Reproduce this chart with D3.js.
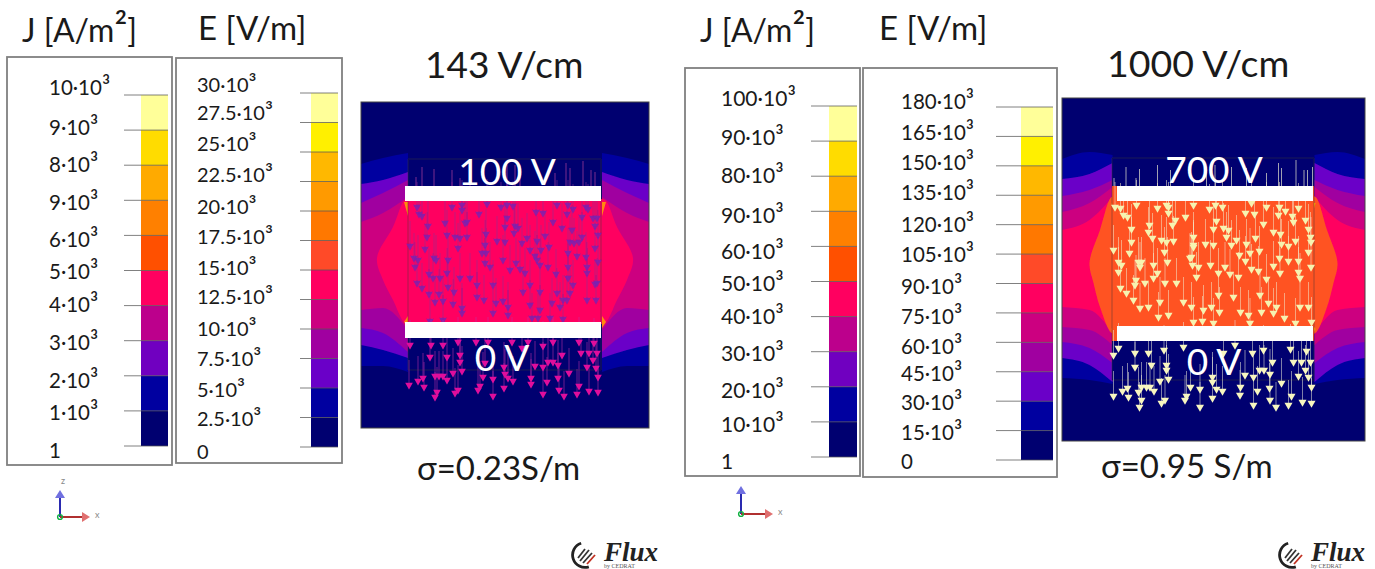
<!DOCTYPE html>
<html><head><meta charset="utf-8">
<script src="https://cdn.jsdelivr.net/npm/d3@7"></script>
<style>html,body{margin:0;padding:0;background:#fff;overflow:hidden}svg{display:block}text{font-family:Lato,"Open Sans",sans-serif;fill:#1a1a1a}</style>
</head><body><svg id="c" width="1375" height="569"></svg>
<script>
// ---------- legend data (bottom to top) ----------
const jLabelsLow  = ["1","1·10³","2·10³","3·10³","4·10³","5·10³","6·10³","9·10³","8·10³","9·10³","10·10³"];
const eLabelsLow  = ["0","2.5·10³","5·10³","7.5·10³","10·10³","12.5·10³","15·10³","17.5·10³","20·10³","22.5·10³","25·10³","27.5·10³","30·10³"];
const jLabelsHigh = ["1","10·10³","20·10³","30·10³","40·10³","50·10³","60·10³","90·10³","80·10³","90·10³","100·10³"];
const eLabelsHigh = ["0","15·10³","30·10³","45·10³","60·10³","75·10³","90·10³","105·10³","120·10³","135·10³","150·10³","165·10³","180·10³"];
const jColors = ["#000070","#0000a0","#7000c0","#bc008c","#ff0060","#ff5000","#ff8000","#ffaa00","#ffdc00","#ffff99"];
const eColors = ["#000070","#0000a0","#6a00c8","#a000a0","#cc0080","#ff0060","#ff4a28","#ff7800","#ff9a00","#ffb800","#fff000","#ffff99"];

// ---------- field bands: distance along x, upper and lower contour height ----------
const bandXLow  = [-144,-122,-97];
const bandsLow = [
  {color:"#0000a0", top:[264,270,275], bottom:[62,62,56]},
  {color:"#6a00c8", top:[244,248,256], bottom:[83,78,70]},
  {color:"#a000a0", top:[225,235,248], bottom:[100,95,76]},
  {color:"#cc0080", top:[206,215,231], bottom:[118,120,98]}
];
const coreLow = [[-100,228],[-112,201],[-128,170],[-122,148],[-112,128],[-100,105],[-94,105],[-94,228]];
const bandXHigh = [-151.5,-124,-101];
const bandsHigh = [
  {color:"#0000a0", top:[282,289,286], bottom:[63,61,57]},
  {color:"#6a00c8", top:[262,267,278], bottom:[83,76,59]},
  {color:"#a000a0", top:[245,251,261], bottom:[99,93,78]},
  {color:"#cc0080", top:[229,238,254], bottom:[114,111,96]},
  {color:"#ff0060", top:[211,221,244], bottom:[134,131,108]}
];
const coreHigh = [[-102,244],[-113.5,211],[-124,178],[-120,158],[-113.5,134],[-102,108],[-97,108],[-97,244]];

// ---------- field arrows: x, height of the arrow head ----------
const innerLow = [[-88,221],[-86,214],[-83,212],[-77,202],[-78,191],[-80,179],[-95,182],[-91,170],[-87,168],[-90,161],[-71,170],[-69,168],[-76,154],[-72,150],[-65,150],[-58,155],[-57,168],[-47,180],[-58,193],[-60,205],[-53,221],[-43,223],[-43,218],[-26,214],[-38,206],[-40,205],[-50,191],[-45,190],[-38,191],[-18,224],[-4,221],[2,223],[8,222],[2,210],[0,201],[10,202],[13,200],[9,195],[-19,194],[-8,187],[0,186],[-20,183],[-23,175],[-19,175],[-2,168],[-20,165],[-15,161],[-35,150],[-45,150],[5,158],[11,165],[15,159],[20,155],[17,185],[22,190],[32,187],[25,178],[30,172],[36,178],[44,181],[32,168],[35,163],[43,161],[51,154],[40,192],[57,200],[48,206],[38,215],[31,216],[52,223],[62,214],[63,223],[68,219],[81,221],[83,219],[77,211],[88,210],[92,210],[90,202],[67,198],[77,191],[93,193],[65,186],[69,185],[74,186],[90,180],[63,175],[72,172],[81,171],[93,166],[63,161],[82,161],[82,155],[90,144],[63,150],
  [-88,145],[-83,140],[-76,134],[-66,134],[-57,141],[-51,136],[-70,126],[-62,127],[-52,124],[-43,120],[-43,115],[-28,143],[-28,131],[-21,128],[-12,143],[-9,125],[-2,127],[-12,115],[3,121],[3,113],[18,136],[35,136],[25,143],[25,123],[35,118],[33,110],[27,110],[47,125],[55,121],[52,135],[65,135],[68,143],[62,128],[58,128],[82,128],[91,128],[92,145],[58,109],[45,110],[-75,107],[-62,108]];
const outerLow = [[-95,83],[-74,83],[-62,83],[-47,86],[-29,86],[-17,86],[7,86],[23,86],[48,86],[74,86],[89,85],[38,82],[17,80],[-75,71],[-58,71],[-45,73],[-45,66],[-43,57],[-52,55],[-20,65],[-1,61],[0,54],[30,62],[38,61],[43,66],[48,66],[53,63],[57,73],[76,75],[84,75],[92,75],[88,68],[82,61],[91,60],[64,55],[-96,43],[-87,47],[-82,50],[-81,41],[-70,52],[-66,52],[-62,52],[-58,48],[-68,36],[-70,31],[-50,35],[-47,38],[-27,38],[-25,42],[-22,51],[-12,49],[-12,32],[-1,40],[3,50],[8,47],[26,50],[26,44],[42,46],[38,34],[53,50],[54,38],[59,32],[72,34],[74,42],[84,37],[93,51],[93,36]];
const stemsLow = [[-89,251],[-83,261],[-71,259],[-53,258],[-45,250],[-35,255],[2,263],[10,263],[15,263],[50,255],[61,265],[65,260],[78,267],[86,258],[90,256]];

const innerHigh = [[-98.5,234],[-93,233],[-90,226],[-86,224],[-77,236],[-56,233],[-47,236],[-45,234],[-45,228],[-38,221],[-41,216],[-64,216],[-65,209],[-82,212],[-82,199],[-61,203],[-52,201],[-47,199],[-40,200],[-20,236],[-28,224],[-20,204],[-20,196],[-8,197],[0,196],[2,236],[9,234],[-4,232],[3,220],[0,212],[10,213],[15,211],[13,204],[23,201],[18,196],[33,197],[42,203],[32,228],[41,227],[38,238],[53,234],[50,217],[66,234],[72,230],[65,226],[85,233],[79,225],[80,219],[92,221],[60,209],[67,207],[95,212],[97,204],[97.5,199],[68,197],[75,195],[82,200],[46,190],[36.5,188],[26,186],[32,180],[66,183],[75,180],[95,189],[85,180],[60,175],[97.5,174],[85,169],[86.5,163],[66.5,168],[53,162],[45,170],[38,172],[25,164],[16.5,167],[11.5,174],[5,168],[-3,176],[-15,174],[-21,176],[-23.5,183],[-17,164],[-46,179],[-49,189],[-84,188],[-100,191],[-95,179],[-92,176],[-95,169],[-75,179],[-72,179],[-73.5,174],[-60,176],[-56,168],[-60,163],[-77.5,161],[-68.5,158],[-48.5,158],[-37,158],[-93,153],[-78.5,156],[-22,184],[-20,194],
  [-87,148],[-80,141],[-73.5,133],[-65,134],[-55,124],[-53.5,139],[-45,126],[-30,139],[-22,134],[-10,131],[-2,134],[6,129],[5,146],[20,144],[27,129],[35,126],[48,129],[55,138],[63,134],[60,128],[71,123],[86.5,134],[95,134],[46.5,146],[-20,119],[-11,120],[0,118],[36.5,118],[82,118],[98,119]];
const outerHigh = [[-95,93],[-100,86],[-78.5,88],[-65,88],[-49.5,91],[-30,94],[10,88],[21.5,96],[39,88],[50,91],[77,92],[93,90],[80,79],[88,79],[97,79],[59,79],[92,71],[-78.5,74],[-62,76],[-47,76],[-47,71],[-45,62],[-53.5,60],[-1,64],[-1,59],[31.5,66],[40,64],[46,71],[50.5,71],[56.5,67],[68,58],[85,65],[95,64],[-100,45],[-91,50],[-86,53],[-85,44],[-75,49],[-72,54],[-67,54],[-63.5,54],[-59.5,50],[-72,41],[-74,34],[-52,38],[-48.5,41],[-28.5,41],[-27,45],[-23,54],[-13.5,52],[-13.5,34],[-1,43],[3,52],[9,50],[26.5,46],[27,54],[44,50],[40,36],[56,53],[56.5,41],[62.5,34],[75,36],[78,45],[89,39],[98,54],[98,38]];
const stemsHigh = [[-99.5,263],[-87.5,274],[-77.5,263],[-74,272],[-56,276],[-43,271],[-7,271],[1.5,276],[18,274],[33,273],[53,268],[65,278],[68,273],[82.5,281],[90.5,271],[94,271],[99,274]];

// ---------- layout (not data) ----------
const labelYJ1 = [451,413,381,343,305,272,240,203,165,128,88];
const labelYE1 = [452,419,390,359,329,297,268,237,207,175,144,113,85];
const labelYJ2 = [461,424,390,353,316,283,251,215,175,137,98];
const labelYE2 = [462,433,403,374,347,317,287,255,225,193,163,133,102];
const legends = [
 {labels:jLabelsLow, colors:jColors, box:[7,57,172,465], bar:[141,168], y:[446,95], tick:44, lx:49, ly:labelYJ1, fs:20.5},
 {labels:eLabelsLow, colors:eColors, box:[176,58,342,463], bar:[311,338], y:[447,93], tick:38, lx:197, ly:labelYE1, fs:20},
 {labels:jLabelsHigh, colors:jColors, box:[685,68,860,476], bar:[829,857], y:[457,106], tick:46, lx:721, ly:labelYJ2, fs:21},
 {labels:eLabelsHigh, colors:eColors, box:[863,68,1057,477], bar:[1021,1053], y:[460,107], tick:57, lx:901, ly:labelYE2, fs:20.5}
];
const svg = d3.select("#c");

// text helper: the ³ and ² glyphs are set a little larger, as the reference's exponents are
function rich(sel, s){
  s.split(/([²³])/).filter(p=>p).forEach(p=>{
    if(p==="³"||p==="²") sel.append("tspan").attr("font-size","1.2em").text(p);
    else sel.append("tspan").text(p);
  });
}

// ---------- legends ----------
legends.forEach(L=>{
  const g = svg.append("g");
  const y = d3.scaleLinear().domain([0,L.labels.length-1]).range(L.y);
  g.append("rect").attr("x",L.box[0]).attr("y",L.box[1]).attr("width",L.box[2]-L.box[0]).attr("height",L.box[3]-L.box[1])
   .attr("fill","#fff").attr("stroke","#808080").attr("stroke-width",1.8);
  g.selectAll(".seg").data(L.colors).join("rect").attr("x",L.bar[0]).attr("width",L.bar[1]-L.bar[0])
   .attr("y",(d,i)=>y(i+1)).attr("height",(d,i)=>y(i)-y(i+1)).attr("fill",d=>d);
  g.selectAll(".tk").data(L.labels).join("line").attr("x1",L.bar[1]-L.tick).attr("x2",L.bar[1])
   .attr("y1",(d,i)=>y(i)).attr("y2",(d,i)=>y(i)).attr("stroke","#555").attr("stroke-opacity",.75).attr("stroke-width",1);
  g.selectAll(".lb").data(L.labels).join("text").attr("x",L.lx).attr("y",(d,i)=>L.ly[i]).attr("dy",".36em")
   .attr("font-size",L.fs).each(function(d){rich(d3.select(this),d);});
});

// ---------- field plots ----------
const defs = svg.append("defs");
defs.append("filter").attr("id","soft").attr("x","-5%").attr("y","-5%").attr("width","110%").attr("height","110%")
  .append("feGaussianBlur").attr("stdDeviation",.55);

function field(c){
  const x = d3.scaleLinear().domain([-c.halfW,c.halfW]).range(c.px);
  const z = d3.scaleLinear().domain([0,c.h]).range(c.py);
  const g = svg.append("g");
  const s = g.append("g").attr("filter","url(#soft)");
  const rectZ=(xa,xb,za,zb,fill)=>s.append("rect").attr("x",x(xa)).attr("width",x(xb)-x(xa)).attr("y",z(zb)).attr("height",z(za)-z(zb)).attr("fill",fill);
  rectZ(-c.halfW,c.halfW,0,c.h,"#000070");
  [1,-1].forEach(m=>{
    const area = d3.area().x(d=>x(m*d.x)).y0(d=>z(d.b)).y1(d=>z(d.t)).curve(d3.curveMonotoneX);
    c.bands.forEach(b=>{
      const pts = c.bandX.map((v,i)=>({x:v,t:b.top[i],b:b.bottom[i]}));
      if(m<0) pts.reverse();
      s.append("path").attr("d",area(pts)).attr("fill",b.color);
    });
    const ln = d3.line().x(d=>x(m*d[0])).y(d=>z(d[1])).curve(d3.curveCatmullRomClosed.alpha(.5));
    s.append("path").attr("d",ln(c.core)).attr("fill",c.coreColor);
    const sl = d3.line().x(d=>x(m*d[0])).y(d=>z(d[1]));
    c.slivers.forEach(p=>s.append("path").attr("d",sl(p)+"Z").attr("fill",c.sliverColor));
  });
  // central column
  rectZ(c.rect[0],c.rect[1],c.lower[1],c.rect[3],"#000070");
  rectZ(c.rect[0],c.rect[1],c.rect[2],c.lower[0],"#000070");
  rectZ(c.rect[0],c.rect[1],c.lower[0],c.upper[1],c.coreColor);
  s.append("rect").attr("x",x(c.rect[0])).attr("width",x(c.rect[1])-x(c.rect[0])).attr("y",z(c.rect[3])).attr("height",z(c.rect[2])-z(c.rect[3]))
   .attr("fill","none").attr("stroke","#333").attr("stroke-opacity",.6).attr("stroke-width",.7);
  s.selectAll(".st").data(c.stems).join("line").attr("x1",d=>x(d[0])).attr("x2",d=>x(d[0])).attr("y1",d=>z(d[1])).attr("y2",z(c.upper[1]))
   .attr("stroke",c.stemUp).attr("stroke-opacity",.75).attr("stroke-width",1);
  const tri = d3.symbol().type(d3.symbolTriangle).size(c.head);
  [[c.inner,c.innerColor,c.innerStem,c.innerOp],[c.outer,c.outerColor,c.outerStem,1]].forEach(([arr,col,stem,op])=>{
    s.append("g").selectAll("line").data(arr).join("line").attr("x1",d=>x(d[0])).attr("x2",d=>x(d[0]))
      .attr("y1",d=>z(d[1])-c.stemLen).attr("y2",d=>z(d[1])).attr("stroke",stem).attr("stroke-opacity",.55).attr("stroke-width",1);
    s.append("g").selectAll("path").data(arr).join("path").attr("d",tri).attr("fill-opacity",op)
      .attr("transform",d=>`translate(${x(d[0])},${z(d[1])}) rotate(180)`).attr("fill",col);
  });
  rectZ(c.elec[0],c.elec[1],c.upper[0],c.upper[1],"#fff");
  rectZ(c.elec[0],c.elec[1],c.lower[0],c.lower[1],"#fff");
  g.append("rect").attr("x",c.px[0]).attr("y",c.py[1]).attr("width",c.px[1]-c.px[0]).attr("height",c.py[0]-c.py[1])
   .attr("fill","none").attr("stroke","#444").attr("stroke-width",1);
  c.labels.forEach(l=>g.append("text").attr("x",l[1]).attr("y",l[2]).attr("dy",".36em").attr("text-anchor","middle")
    .attr("font-size",l[3]).style("fill","#fff").text(l[0]));
}
field({halfW:144,h:326,px:[361,649],py:[428,102],
  bandX:bandXLow,bands:bandsLow,core:coreLow,coreColor:"#ff0060",
  slivers:[[[-101,226],[-97,226],[-97,212]],[[-101,106],[-97,112],[-97,100]]],sliverColor:"#ff8a10",
  rect:[-97,96,58,269],elec:[-100,96],upper:[227,242],lower:[90,106],
  stems:stemsLow,stemUp:"#a0309a",inner:innerLow,outer:outerLow,
  innerColor:"#7424b4",innerStem:"#8a2098",innerOp:.8,outerColor:"#e0109c",outerStem:"#c02aa8",head:25,stemLen:25,
  labels:[["100 V",507,172,37],["0 V",502,358,37]]});
field({halfW:151.5,h:343,px:[1062,1365],py:[441,98],
  bandX:bandXHigh,bands:bandsHigh,core:coreHigh,coreColor:"#ff5224",
  slivers:[[[-102,238],[-98,238],[-98,224]],[[-102,112],[-98,118],[-98,104]]],sliverColor:"#ffb000",
  rect:[-101.5,100.5,61,283],elec:[-96.5,99.5],upper:[240,255],lower:[100,115],
  stems:stemsHigh,stemUp:"#d8d8c8",inner:innerHigh,outer:outerHigh,
  innerColor:"#f6f3b0",innerStem:"#f2e8c8",innerOp:1,outerColor:"#f8f6c0",outerStem:"#e8e8d8",head:28,stemLen:25,
  labels:[["700 V",1214,170,37],["0 V",1214,362,37]]});

// ---------- headings ----------
[["J [A/m²]",22,30,32],["E [V/m]",198,28,33],["J [A/m²]",700,30,32],["E [V/m]",879,28,33],
 ["143 V/cm",425,65,37],["1000 V/cm",1107,63,37.5],["σ=0.23S/m",417,468,33],["σ=0.95 S/m",1101,466,33]]
 .forEach(t=>{const e=svg.append("text").attr("x",t[1]).attr("y",t[2]).attr("dy",".36em").attr("font-size",t[3]); rich(e,t[0]);});

// ---------- axis triads ----------
function triad(ox,oy,up,right,showZ){
  const g = svg.append("g");
  g.append("line").attr("x1",ox).attr("x2",ox).attr("y1",oy).attr("y2",oy-up+5).attr("stroke","#2a2ab0").attr("stroke-width",2);
  g.append("path").attr("d",`M${ox},${oy-up}l-5,8h10z`).attr("fill","#7070e0");
  g.append("line").attr("x1",ox).attr("x2",ox+right-5).attr("y1",oy).attr("y2",oy).attr("stroke","#b03030").attr("stroke-width",2);
  g.append("path").attr("d",`M${ox+right},${oy}l-8,-5v10z`).attr("fill","#e07070");
  g.append("circle").attr("cx",ox).attr("cy",oy).attr("r",2.4).attr("fill","none").attr("stroke","#10b040").attr("stroke-width",1.4);
  g.append("text").attr("x",ox+right+5).attr("y",oy+1).attr("font-size",9).style("fill","#888").text("x");
  if(showZ) g.append("text").attr("x",ox+1).attr("y",oy-up-6).attr("font-size",9).style("fill","#888").text("z");
}
triad(60,517,27,30,true);
triad(741,514,28,32,false);

// ---------- logos ----------
function logo(x0){
  const g = svg.append("g").attr("transform",`translate(${x0},541)`);
  g.append("path").attr("d",d3.arc()({innerRadius:11,outerRadius:13.8,startAngle:Math.PI*.9,endAngle:Math.PI*1.9}))
   .attr("transform","translate(14,14)").attr("fill","#222");
  [[7,17,14,8,"#333"],[9,20,18,9,"#333"],[12,22,21,12,"#333"],[16,23,24,14,"#c03020"]].forEach(l=>
    g.append("line").attr("x1",l[0]).attr("y1",l[1]).attr("x2",l[2]).attr("y2",l[3]).attr("stroke",l[4]).attr("stroke-width",1.8));
  g.append("text").attr("x",33).attr("y",20).attr("font-size",27).style("font-family","'Liberation Serif',serif")
   .style("font-weight","bold").style("font-style","italic").style("fill","#222").text("Flux");
  g.append("text").attr("x",33).attr("y",27).attr("font-size",6).style("font-family","'Liberation Serif',serif").style("fill","#555").text("by CEDRAT");
}
logo(571); logo(1278);
</script></body></html>
